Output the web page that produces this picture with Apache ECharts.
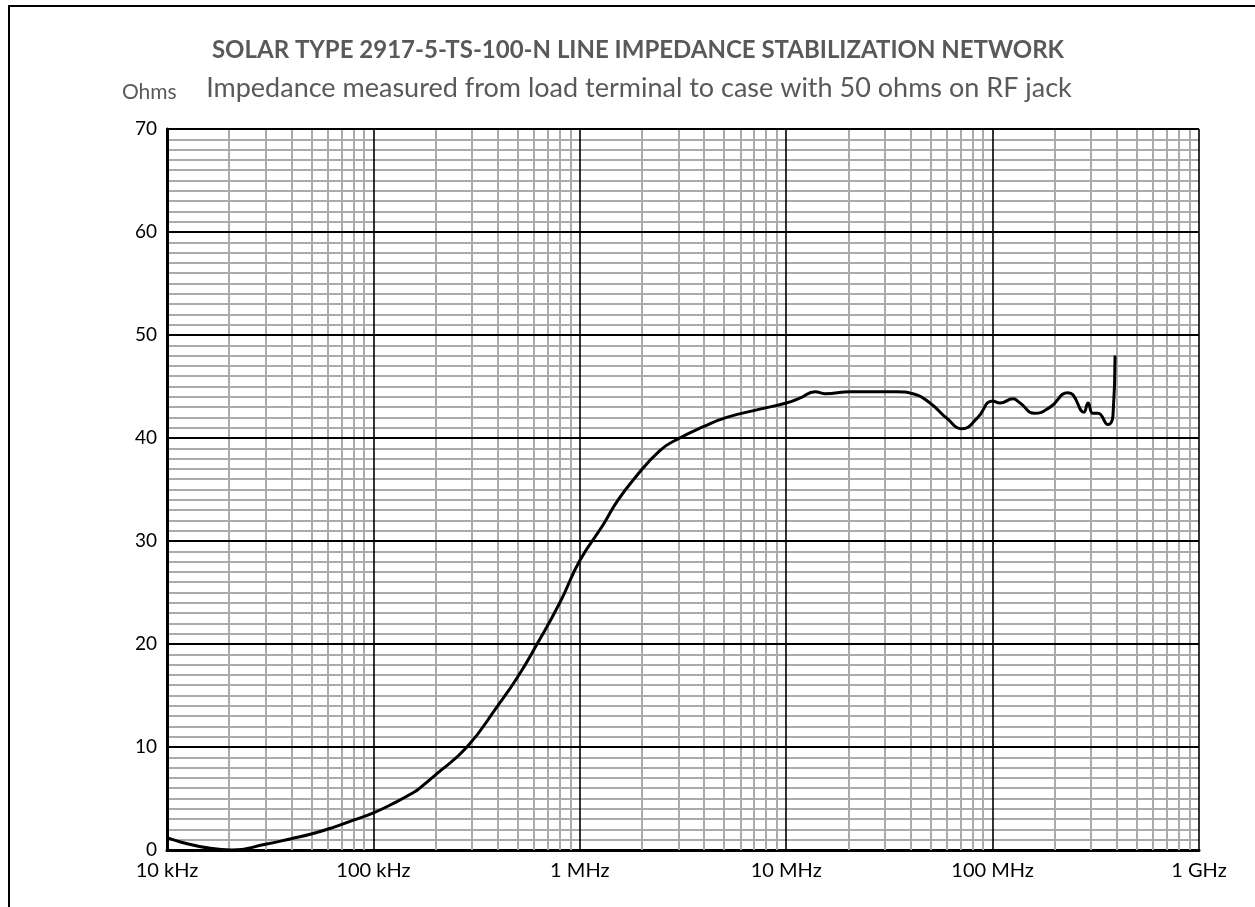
<!DOCTYPE html>
<html>
<head>
<meta charset="UTF-8">
<title>LISN impedance</title>
<style>
    body { margin: 0; padding: 0; background: #FFFFFF; overflow: hidden; }
    #main_chart { width: 1255px; height: 907px; }
</style>
</head>
<body>
<div id="main_chart"></div>
<script src="https://cdn.jsdelivr.net/npm/echarts@6/dist/echarts.min.js"></script>
<script>
// frequency (Hz) and impedance (ohms)
var freqHz = [1e4, 2.06e4, 3e4, 4e4, 5e4, 6.4e4, 8e4, 1e5, 1.3e5, 1.57e5, 1.65e5, 2e5, 2.84e5, 4e5, 5e5,
    6.21e5, 8e5, 1e6, 1.3e6, 1.5e6, 1.81e6, 2.45e6, 3.05e6, 3.97e6, 5.15e6, 7.46e6, 1e7, 1.17e7,
    1.38e7, 1.54e7, 2.04e7, 3.44e7, 4.11e7, 4.97e7, 6.01e7, 7.11e7, 8.4e7, 1e8, 1.086e8, 1.256e8,
    1.358e8, 1.6e8, 1.9e8, 2.32e8, 2.45e8, 2.77e8, 2.9e8, 3.06e8, 3.24e8, 3.62e8, 3.83e8, 3.92e8];
var ohms = [1.2, 0, 0.55, 1.1, 1.55, 2.2, 2.9, 3.6, 4.7, 5.6, 5.9, 7.3, 10, 14, 16.8,
    20, 24, 28.1, 31.6, 33.7, 35.9, 38.8, 40, 41.1, 42, 42.8, 43.4, 43.9,
    44.5, 44.3, 44.5, 44.5, 44.3, 43.4, 41.9, 40.9, 41.9, 43.6, 43.4, 43.8,
    43.4, 42.4, 43.0, 44.4, 44.2, 42.5, 43.4, 42.4, 42.4, 41.3, 42.2, 48];

var decades = [1e4, 1e5, 1e6, 1e7, 1e8, 1e9];
var decadeLabels = ['10 kHz', '100 kHz', '1 MHz', '10 MHz', '100 MHz', '1 GHz'];
var ohmTicks = [10, 20, 30, 40, 50, 60, 70];

var lineData = [];
for (var i = 0; i < freqHz.length; i++) {
    lineData.push([freqHz[i], ohms[i]]);
}

// grid lines: gray minor verticals first, then black majors on top
var gridMarks = [];
for (var d = 0; d < decades.length - 1; d++) {
    for (var m = 2; m <= 9; m++) {
        gridMarks.push({ xAxis: decades[d] * m, lineStyle: { color: '#ABABAB', width: 2, type: 'solid' } });
    }
}
for (var d = 1; d < decades.length; d++) {
    gridMarks.push({ xAxis: decades[d], lineStyle: { color: '#000000', width: 1.6, type: 'solid' } });
}
for (var k = 0; k < ohmTicks.length; k++) {
    gridMarks.push({ yAxis: ohmTicks[k], lineStyle: { color: '#000000', width: 2, type: 'solid' } });
}

var dom = document.getElementById('main_chart');
var chart = echarts.init(dom);

var option = {
    animation: false,
    backgroundColor: '#FFFFFF',
    textStyle: { fontFamily: 'Lato' },
    title: [
        {
            text: 'SOLAR TYPE 2917-5-TS-100-N LINE IMPEDANCE STABILIZATION NETWORK',
            left: 633, top: 33, textAlign: 'center',
            textStyle: { fontFamily: 'Lato', fontSize: 24, fontWeight: 'bold', color: '#595959' }
        },
        {
            text: 'Impedance measured from load terminal to case with 50 ohms on RF jack',
            left: 634, top: 70, textAlign: 'center',
            textStyle: { fontFamily: 'Lato', fontSize: 27, fontWeight: 'normal', color: '#595959' }
        },
        {
            text: 'Ohms',
            left: 117, top: 77,
            textStyle: { fontFamily: 'Lato', fontSize: 21, fontWeight: 'normal', color: '#595959' }
        }
    ],
    graphic: [
        {
            type: 'polyline',
            shape: { points: [[9, 907], [9, 6], [1255, 6]] },
            style: { stroke: '#000000', lineWidth: 2, fill: null },
            silent: true
        }
    ],
    grid: { left: 167, right: 56, top: 129, bottom: 57 },
    xAxis: {
        type: 'log',
        logBase: 10,
        min: 1e4,
        max: 1e9,
        axisLine: { show: true, lineStyle: { color: '#000000', width: 3 } },
        axisTick: { show: false },
        splitLine: { show: false },
        axisLabel: {
            margin: 11,
            fontSize: 20,
            color: '#000000',
            formatter: function (v) {
                for (var i = 0; i < decades.length; i++) {
                    if (Math.abs(v - decades[i]) / decades[i] < 1e-6) return decadeLabels[i];
                }
                return '';
            }
        }
    },
    yAxis: {
        type: 'value',
        min: 0,
        max: 70,
        interval: 10,
        axisLine: { show: true, lineStyle: { color: '#000000', width: 3 } },
        axisTick: { show: false },
        splitLine: { show: false },
        minorTick: { show: false, splitNumber: 10 },
        minorSplitLine: { show: true, lineStyle: { color: '#ABABAB', width: 2 } },
        axisLabel: { margin: 10, fontSize: 19, color: '#000000' }
    },
    series: [
        {
            type: 'line',
            data: [],
            z: 1,
            silent: true,
            markLine: {
                silent: true,
                symbol: ['none', 'none'],
                label: { show: false },
                emphasis: { disabled: true },
                animation: false,
                data: gridMarks
            }
        },
        {
            type: 'line',
            data: lineData,
            z: 5,
            showSymbol: false,
            smooth: 0.5,
            lineStyle: { color: '#000000', width: 3 }
        }
    ]
};

chart.setOption(option);
window.addEventListener('resize', chart.resize);
</script>
</body>
</html>
